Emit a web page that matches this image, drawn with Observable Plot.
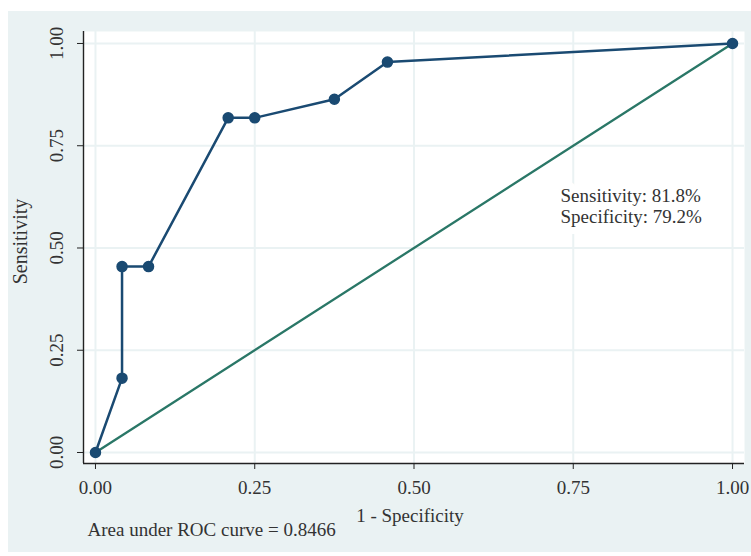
<!DOCTYPE html>
<html>
<head>
<meta charset="utf-8">
<script src="https://cdn.jsdelivr.net/npm/d3@7"></script>
<script src="https://cdn.jsdelivr.net/npm/@observablehq/plot@0.6"></script>
<style>
  html, body { margin: 0; padding: 0; background: #ffffff; }
  #wrap { padding-left: 8px; padding-top: 11px; }
  svg { display: block; }
</style>
</head>
<body>
<div id="wrap"></div>
<script>
// ROC curve points (1 - specificity, sensitivity)
const fpr = [0, 0.0417, 0.0417, 0.0833, 0.2083, 0.25, 0.375, 0.4583, 1];
const tpr = [0, 0.1818, 0.4545, 0.4545, 0.8182, 0.8182, 0.8636, 0.9545, 1];
// reference (chance) line
const refX = [0, 1];
const refY = [0, 1];
// ticks
const xTicks = [0, 0.25, 0.5, 0.75, 1];
const yTicks = [0, 0.25, 0.5, 0.75, 1];
// texts
const xLabel = "1 - Specificity";
const yLabel = "Sensitivity";
const noteLines = ["Sensitivity: 81.8%", "Specificity: 79.2%"];
const caption = "Area under ROC curve = 0.8466";

const xDomain = [-0.0188, 1.0188];
const yDomain = [-0.0269, 1.0293];

const roc = fpr.map((x, i) => ({x, y: tpr[i]}));
const ref = refX.map((x, i) => ({x, y: refY[i]}));

const BLUE = "#1a4a72";
const GREEN = "#2a7767";
const GRID = "#eaf2f3";
const FONT = "'Liberation Serif', 'DejaVu Serif', serif";
const FS = 19;

const chart = Plot.plot({
  width: 743,
  height: 541,
  marginLeft: 75,
  marginRight: 7,
  marginTop: 20,
  marginBottom: 89,
  style: {background: GRID, fontFamily: FONT, fontSize: FS + "px", color: "#333"},
  x: {domain: xDomain, label: null},
  y: {domain: yDomain, label: null},
  marks: [
    Plot.frame({fill: "white", stroke: "none"}),
    Plot.gridX({ticks: xTicks, stroke: GRID, strokeOpacity: 1, strokeWidth: 2}),
    Plot.gridY({ticks: yTicks, stroke: GRID, strokeOpacity: 1, strokeWidth: 2}),
    Plot.ruleX([xDomain[0]], {stroke: "#222", strokeWidth: 1.4}),
    Plot.ruleY([yDomain[0]], {stroke: "#222", strokeWidth: 1.4}),
    Plot.axisX({ticks: xTicks, tickFormat: d3.format(".2f"), tickSize: 6, tickPadding: 11, fontSize: FS, stroke: "#222", fill: "#333"}),
    Plot.axisY({ticks: yTicks, tickFormat: d3.format(".2f"), tickSize: 6, tickPadding: 15, tickRotate: -90, fontSize: FS, stroke: "#222", fill: "#333"}),
    Plot.line(ref, {x: "x", y: "y", stroke: GREEN, strokeWidth: 2.3}),
    Plot.line(roc, {x: "x", y: "y", stroke: BLUE, strokeWidth: 2.5}),
    Plot.dot(roc, {x: "x", y: "y", r: 5, fill: BLUE, stroke: BLUE}),
    Plot.text([noteLines.join("\n")], {frameAnchor: "top-left", textAnchor: "start", dx: 477, dy: 156, lineHeight: 1.1, fontSize: FS, fill: "#333", stroke: "white", strokeWidth: 14, strokeLinejoin: "round"}),
    Plot.text([xLabel], {frameAnchor: "bottom", textAnchor: "middle", dx: -4, dy: 58, fontSize: FS, fill: "#333"}),
    Plot.text([yLabel], {frameAnchor: "left", textAnchor: "middle", rotate: -90, dx: -63, dy: -6, fontSize: FS + 1, fill: "#333"}),
    Plot.text([caption], {frameAnchor: "bottom-left", textAnchor: "start", dx: 4, dy: 72, fontSize: FS, fill: "#333"})
  ]
});
document.getElementById("wrap").appendChild(chart);
</script>
</body>
</html>
